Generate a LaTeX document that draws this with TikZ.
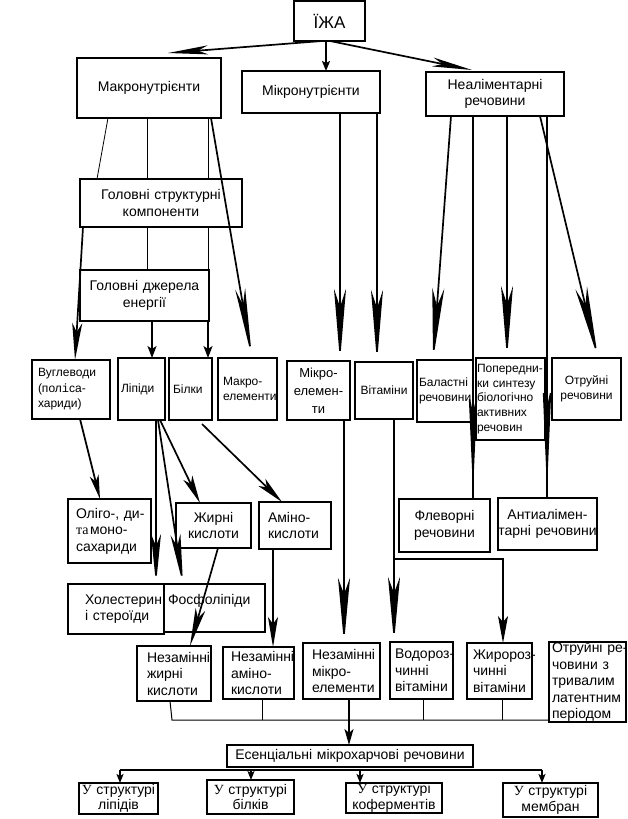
\documentclass[tikz,border=0pt]{standalone}
\usepackage{fontspec}
\setmainfont{Liberation Sans}
\newfontfamily\tmsf{Liberation Serif}
\newfontfamily\monof{Liberation Mono}
\usetikzlibrary{arrows.meta,calc}
\hyphenpenalty=10000
\exhyphenpenalty=10000
% \bx{name}{x1}{y1}{x2}{y2}{pad}{align}{styles}{text}
\newcommand\bx[9]{%
  \pgfmathsetmacro\bxw{#4-#2}%
  \pgfmathsetmacro\bxh{#5-#3}%
  \pgfmathsetmacro\bxcx{(#2+#4)/2}%
  \pgfmathsetmacro\bxcy{(#3+#5)/2}%
  \pgfmathsetmacro\bxtw{#4-#2-2*#6}%
  \node[box,#8,minimum width=\bxw pt,minimum height=\bxh pt,text width=\bxtw pt,inner xsep=#6pt,align=#7] (#1) at (\bxcx,\bxcy) {#9};%
}
\begin{document}
\begin{tikzpicture}[x=1pt,y=-1pt,
  box/.style={draw,line width=1.1pt,inner ysep=0pt,outer sep=0pt},
  tb/.style={line width=1.8pt},
  f17/.style={font=\fontsize{17}{20}\selectfont},
  f14/.style={font=\fontsize{14}{16.5}\selectfont},
  f14s/.style={font=\fontsize{14}{15.5}\selectfont},
  f13/.style={font=\fontsize{13}{18}\selectfont},
  f12/.style={font=\fontsize{12}{15.5}\selectfont},
  f12p/.style={font=\fontsize{12}{14.7}\selectfont},
  ar/.style n args={3}{line width=1.7pt,-{Stealth[length=#1pt,width=#2pt,inset=#3pt]}},
  arm/.style n args={3}{line width=1.3pt,-{Stealth[length=#1pt,width=#2pt,inset=#3pt]}},
  ard/.style={line width=1.3pt,-{Stealth[length=9pt,width=7pt,inset=2pt]}},
  tn/.style={line width=0.8pt}]
\useasboundingbox (0,0) rectangle (627,819);

% boxes
\bx{izha}{294}{1}{365}{41}{0}{center}{f17,tb}{ЇЖА}
\bx{makro}{77}{58}{221}{118}{0}{center}{f14,tb}{Макронутрієнти}
\bx{mikro}{242}{71}{380}{113}{0}{center}{f14,tb}{Мікронутрієнти}
\bx{neal}{426}{72}{564}{116}{0}{center}{f14,tb}{Неаліментарні\\речовини}
\bx{gsk}{80}{179}{242}{227}{0}{center}{f14,tb}{Головні~структурні\\компоненти}
\bx{gde}{80}{270}{209}{321}{0}{center}{f14,tb}{Головні~джерела\\енергії}
\bx{vugl}{32}{360}{110}{419}{6}{left}{f12}{Вуглеводи\\(пол{\monof i}са-\\хариди)}
\bx{lipidy}{118}{358}{165}{420}{3}{left}{f12}{Ліпіди}
\bx{bilky}{169}{358}{212}{420}{4}{left}{f12}{Білки}
\bx{makroel}{218}{358}{277}{420}{5}{left}{f12}{Макро-\\елементи}
\bx{mikroel}{287}{361}{350}{420}{0}{center}{f13}{Мікро-\\елемен-\\ти}
\bx{vitam}{355}{362}{413}{419}{0}{center}{f12}{Вітаміни}
\bx{balast}{417}{360}{473}{422}{2}{left}{f12}{Баластні\\речовини}
\bx{poper}{476}{358}{545}{440}{1}{left}{f12p}{Попередни-\\ки~синтезу\\біологічно\\активних\\речовин}
\bx{otruy}{552}{358}{621}{420}{0}{center}{f12}{Отруйні\\речовини}
\bx{oligo}{68}{499}{151}{563}{8}{left}{f14}{Оліго-,~ди-\\{\tmsf та}\hspace{1.5pt}моно-\\сахариди}
\bx{zhyrni}{176}{503}{251}{548}{0}{center}{f14}{Жирні\\кислоти}
\bx{amino}{259}{502}{331}{549}{9}{left}{f14}{Аміно-\\кислоти}
\bx{flev}{399}{499}{490}{552}{0}{center}{f14}{Флеворні\\речовини}
\bx{antial}{498}{498}{597}{550}{0}{center}{f14}{Антиалімен-\\тарні~речовини}
\bx{chol}{68}{584}{164}{634}{17}{left}{f14}{Холестерин\\і~стероїди}
\bx{fosf}{164}{584}{265}{632}{4}{left}{f14}{Фосфоліпіди\\~}
\bx{nzk}{137}{646}{211}{701}{10}{left}{f14}{Незамінні\\жирні\\кислоти}
\bx{nak}{223}{647}{294}{699}{8}{left}{f14}{Незамінні\\аміно-\\кислоти}
\bx{nme}{303}{643}{380}{699}{9}{left}{f14}{Незамінні\\мікро-\\елементи}
\bx{vodo}{390}{642}{453}{699}{5}{left}{f14}{Водороз-\\чинні\\вітаміни}
\bx{zhyro}{467}{643}{532}{699}{6}{left}{f14}{Жиророз-\\чинні\\вітаміни}
\bx{otr2}{549}{642}{626}{722}{3}{left}{f14}{Отруйні~ре-\\човини~з\\тривалим\\латентним\\періодом}
\bx{esen}{227}{745}{473}{767}{0}{center}{f14}{Есенціальні~мікрохарчові~речовини}
\bx{ua}{79}{783}{158}{814}{0}{center}{f14s}{{\tmsf У}~структурі\\ліпідів}
\bx{ub}{207}{780}{294}{814}{0}{center}{f14s}{{\tmsf У}~структурі\\білків}
\bx{uc}{346}{783}{442}{813}{0}{center}{f14s}{{\tmsf У}~структурі\\коферментів}
\bx{ud}{503}{783}{598}{817}{0}{center}{f14s}{{\tmsf У}~структурі\\мембран}

% top level
\draw[ar={40}{9}{10}] (izha.south -| 322,0) -- ($(makro.north -| 168,0)+(0,-5)$);
\draw[ar={10}{8}{2}] (izha.south -| 326,0) -- (mikro.north -| 326,0);
\draw[ar={40}{9}{10}] (izha.south -| 330,0) -- ($(neal.north -| 472,0)+(0,-2)$);

% macronutrients
\draw[tn] (makro.south -| 108,0) -- (gsk.north -| 97,0);
\draw[tn] (makro.south -| 147,0) -- (gsk.north -| 147,0);
\draw[tn] (makro.south -| 208,0) -- (gsk.north -| 208,0);
\draw[ar={70}{10}{16}] (makro.south -| 211,0) -- (makroel.north -| 252,0);
\draw[ar={37}{10}{9}] (gsk.south -| 83,0) -- (vugl.north -| 75,0);
\draw[tn] (gsk.south -| 147,0) -- (gde.north -| 147,0);
\draw[tn] (gsk.south -| 208,0) -- (gde.north -| 208,0);
\draw[ar={12}{9}{3}] (gde.south -| 152,0) -- (lipidy.north -| 152,0);
\draw[ar={12}{9}{3}] (gde.south -| 208,0) -- (bilky.north -| 208,0);

% micronutrients
\draw[ar={72}{12}{18}] (mikro.south -| 340,0) -- (mikroel.north -| 340,0);
\draw[ar={72}{12}{18}] (mikro.south -| 377,0) -- (vitam.north -| 377,0);

% non-alimentary
\draw[ar={72}{12}{18}] (neal.south -| 451,0) -- (balast.north -| 433,0);
\draw[line width=1.3pt] (neal.south -| 473,0) -- (flev.north -| 473,0);
\draw[arm={100}{9}{22}] (neal.south -| 473,0) -- ($(flev.north -| 473,0)+(0,-8)$);
\draw[ar={72}{12}{18}] (neal.south -| 507,0) -- (poper.north -| 507,0);
\draw[line width=1.3pt] (neal.south -| 547,0) -- (antial.north -| 547,0);
\draw[arm={105}{9}{22}] (neal.south -| 547,0) -- ($(antial.north -| 547,0)+(0,-8)$);
\draw[ar={72}{12}{18}] (neal.south -| 540,0) -- (otruy.north -| 598,0);

% lower level
\draw[ar={24}{9}{6}] (vugl.south -| 80,0) -- (oligo.north -| 100,0);
\draw[ar={50}{10}{12}] (lipidy.south -| 156,0) -- (chol.north -| 156,0);
\draw[ar={50}{10}{12}] (lipidy.south -| 158,0) -- (fosf.north -| 183,0);
\draw[ar={28}{10}{7}] (lipidy.south -| 160,0) -- (zhyrni.north -| 200,0);
\draw[ar={28}{10}{7}] ($(bilky.south -| 202,0)+(0,4)$) -- (amino.north -| 282,0);
\draw[ar={38}{10}{9}] (zhyrni.south -| 218,0) -- (nzk.north -| 190,0);
\draw[ar={30}{10}{7}] (amino.south -| 273,0) -- (nak.north -| 273,0);
\draw[ar={65}{12}{16}] (mikroel.south -| 344,0) -- (nme.north -| 344,0);
\draw[ar={65}{12}{16}] (vitam.south -| 394,0) -- (vodo.north -| 394,0);
\coordinate (vbr) at (394,559);
\draw[ar={27}{10}{6},line width=1.4pt] (vbr) -| (zhyro.north -| 503,0);

% collector
\coordinate (col) at (349,720);
\draw[line width=1pt] (nzk.south -| 170,0) -- (col -| 172,0) -- (otr2.west |- col);
\draw[tn] (nak.south -| 262,0) -- (col -| 262,0);
\draw[tn] (vodo.south -| 423,0) -- (col -| 423,0);
\draw[tn] (zhyro.south -| 502,0) -- (col -| 502,0);
\draw[ar={16}{9}{4}] (nme.south -| 349,0) -- (esen.north -| 349,0);

% distribution
\coordinate (dl) at (120,770);
\coordinate (dr) at (542,770);
\draw[line width=1.3pt] (dl) -- (dr);
\draw[ard] (dl) -- (ua.north -| dl);
\draw[ard] (dl -| 251,0) -- (ub.north -| 251,0);
\draw[ard] (dl -| 360,0) -- (uc.north -| 360,0);
\draw[ard] (dr) -- (ud.north -| dr);
\end{tikzpicture}
\end{document}
